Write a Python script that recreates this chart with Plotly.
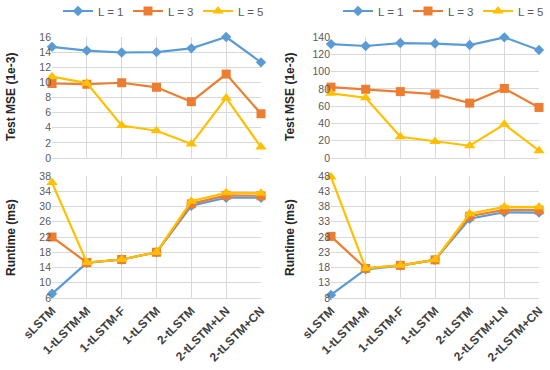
import plotly.graph_objects as go

categories = ["sLSTM", "1-tLSTM-M", "1-tLSTM-F", "1-tLSTM", "2-tLSTM", "2-tLSTM+LN", "2-tLSTM+CN"]
series_names = ["L = 1", "L = 3", "L = 5"]

# Left panel (dataset A)
mse_left_L1 = [14.7, 14.2, 13.95, 14.0, 14.5, 16.0, 12.65]
mse_left_L3 = [9.85, 9.75, 9.95, 9.35, 7.45, 11.1, 5.85]
mse_left_L5 = [10.75, 9.9, 4.3, 3.6, 1.85, 7.95, 1.45]
rt_left_L1 = [7.1, 15.2, 16.1, 18.0, 30.2, 32.3, 32.3]
rt_left_L3 = [22.0, 15.3, 16.1, 18.0, 30.7, 32.9, 32.8]
rt_left_L5 = [36.3, 15.3, 16.1, 18.0, 31.4, 33.6, 33.5]

# Right panel (dataset B)
mse_right_L1 = [131.8, 129.6, 133.0, 132.3, 130.7, 139.6, 124.9]
mse_right_L3 = [82.0, 79.5, 76.8, 74.0, 63.5, 80.5, 58.5]
mse_right_L5 = [74.8, 69.8, 24.5, 19.2, 14.2, 39.0, 8.5]
rt_right_L1 = [9.0, 17.4, 18.6, 20.5, 34.0, 36.1, 36.0]
rt_right_L3 = [28.2, 17.7, 18.7, 20.5, 34.8, 36.9, 36.8]
rt_right_L5 = [47.7, 17.7, 18.7, 20.5, 35.6, 37.9, 37.8]

colors = ["#5B9BD5", "#ED7D31", "#FFC000"]
symbols = ["diamond", "square", "triangle-up"]
msizes = [8, 9, 10]

fig = go.Figure()

panels = [
    ("x", "y", [mse_left_L1, mse_left_L3, mse_left_L5], "legend", True),
    ("x2", "y2", [rt_left_L1, rt_left_L3, rt_left_L5], "legend", False),
    ("x3", "y3", [mse_right_L1, mse_right_L3, mse_right_L5], "legend2", True),
    ("x4", "y4", [rt_right_L1, rt_right_L3, rt_right_L5], "legend2", False),
]
for xa, ya, data, leg, show in panels:
    for i, vals in enumerate(data):
        fig.add_trace(go.Scatter(
            x=categories, y=vals, xaxis=xa, yaxis=ya,
            mode="lines+markers", name=series_names[i],
            line=dict(color=colors[i], width=2.2),
            marker=dict(symbol=symbols[i], size=msizes[i], color=colors[i]),
            legend=leg, showlegend=show, cliponaxis=False,
        ))

grid = "#D9D9D9"
tickfont = dict(family="Liberation Sans, Arial, sans-serif", size=10.5, color="#595959")
xlabfont = dict(family="Liberation Sans, Arial, sans-serif", size=12, color="#404040")

W, H = 550, 370
def px(x): return x / W
def py(y): return 1 - y / H

xl = [px(52), px(261)]
xr = [px(331), px(539)]
yt = [py(158), py(37)]
yb = [py(298), py(176)]

def xax(domain, anchor, labels):
    d = dict(domain=domain, anchor=anchor, type="category", range=[0, 6],
             showgrid=True, gridcolor=grid, gridwidth=1,
             showline=True, linecolor=grid, linewidth=1, automargin=False,
             ticks="", zeroline=False, tickfont=xlabfont)
    if labels:
        d.update(tickangle=-45, tickprefix="<b>", ticksuffix="</b>")
    else:
        d.update(showticklabels=False)
    return d

def yax(domain, anchor, rng, dt):
    return dict(domain=domain, anchor=anchor, range=rng, dtick=dt, tick0=rng[0],
                showgrid=True, gridcolor=grid, gridwidth=1, zeroline=False, automargin=False,
                showline=False, ticks="", tickfont=tickfont)

legfont = dict(family="Liberation Sans, Arial, sans-serif", size=11.5, color="#595959")
fig.update_layout(
    template="none",
    width=W, height=H, margin=dict(l=0, r=0, t=0, b=0, autoexpand=False),
    paper_bgcolor="white", plot_bgcolor="white",
    xaxis=xax(xl, "y", False),
    yaxis=yax(yt, "x", [0, 16], 2),
    xaxis2=xax(xl, "y2", True),
    yaxis2=yax(yb, "x2", [6, 38], 4),
    xaxis3=xax(xr, "y3", False),
    yaxis3=yax(yt, "x3", [0, 140], 20),
    xaxis4=xax(xr, "y4", True),
    yaxis4=yax(yb, "x4", [8, 48], 5),
    legend=dict(orientation="h", x=px(163), xanchor="center", y=py(11), yanchor="middle",
                font=legfont, bgcolor="rgba(0,0,0,0)", entrywidth=25, entrywidthmode="pixels",
                tracegroupgap=0),
    legend2=dict(orientation="h", x=px(443), xanchor="center", y=py(11), yanchor="middle",
                 font=legfont, bgcolor="rgba(0,0,0,0)", entrywidth=25, entrywidthmode="pixels",
                 tracegroupgap=0),
)

titlefont = dict(family="Liberation Sans, Arial, sans-serif", size=12, color="#262626")
for xpos, ypos, txt in [(11, 97, "Test MSE (1e-3)"), (11, 238, "Runtime (ms)"),
                        (290, 97, "Test MSE (1e-3)"), (290, 238, "Runtime (ms)")]:
    fig.add_annotation(x=px(xpos), y=py(ypos), xref="paper", yref="paper",
                       text="<b>" + txt + "</b>", textangle=-90, showarrow=False,
                       font=titlefont, xanchor="center", yanchor="middle")

fig.write_html("out.html", config={"displayModeBar": False},
               post_script="document.body.style.margin='0';document.body.style.overflow='hidden';")
